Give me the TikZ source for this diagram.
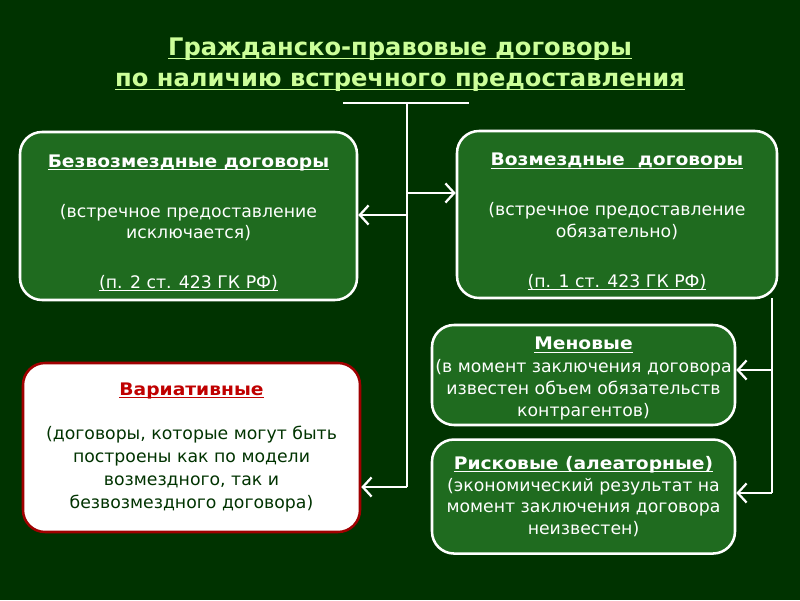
\documentclass[tikz,border=0pt]{standalone}
\usepackage{fontspec}
\setmainfont{DejaVu Sans}
\newfontfamily\hdfont[FakeStretch=1.08]{DejaVu Sans}
\usepackage{tikz}
\usetikzlibrary{positioning, arrows.meta}

\definecolor{bgdark}{HTML}{003300}
\definecolor{boxgreen}{HTML}{1F6B1F}
\definecolor{titlegreen}{HTML}{CCFF99}
\definecolor{darkred}{HTML}{A00000}
\definecolor{redtitle}{HTML}{C00000}

\newcommand{\ul}[1]{\underline{\raisebox{0pt}[\height][0pt]{#1}}}
\newcommand{\hd}[1]{{\hdfont\bfseries\ul{#1}}}

\begin{document}
\begin{tikzpicture}[
    >={Straight Barb[length=2.2mm, width=4.8mm, line width=1.6pt]},
    gbox/.style={rectangle, rounded corners=0.55cm, draw=white, line width=1.8pt, fill=boxgreen, text=white, align=center, font=\fontsize{12.3}{15.4}\selectfont, inner sep=2pt},
    wbox/.style={rectangle, rounded corners=0.55cm, draw=darkred, line width=1.8pt, fill=white, text=bgdark, align=center, font=\fontsize{12.3}{16.3}\selectfont, inner sep=2pt},
    arr/.style={->, line width=1.6pt, white},
    ln/.style={line width=1.6pt, white}
]
\fill[bgdark] (0,0) rectangle (20,15);

% title
\node[text=titlegreen, align=center, font=\bfseries\fontsize{17.2}{22}\selectfont] (title) at (10,13.4)
    {\ul{Гражданско-правовые договоры}\\\ul{по наличию встречного предоставления}};

\coordinate (barl) at (8.575,12.425);
\coordinate (barr) at (11.725,12.425);
\coordinate (top) at (10.175,12.425);
\coordinate (bot) at (10.175,2.825);
\draw[ln] (barl) -- (barr);
\draw[ln] (top) -- (bot);

% main boxes
\node[gbox, minimum width=8.425cm, minimum height=4.2cm] (bezv) at (4.7125,9.6)
    {\rule{0pt}{19pt}\hd{Безвозмездные договоры}\\[20pt]
     (встречное предоставление\\исключается)\\[20pt]
     \ul{(п. 2 ст. 423 ГК РФ)}};
\node[gbox, minimum width=8cm, minimum height=4.175cm] (vozm) at (15.425,9.6375)
    {\rule{0pt}{19pt}\hd{Возмездные\ \ договоры}\\[20pt]
     (встречное предоставление\\обязательно)\\[20pt]
     \ul{(п. 1 ст. 423 ГК РФ)}};
\node[wbox, minimum width=8.425cm, minimum height=4.225cm] (var) at (4.7875,3.8125)
    {\textcolor{redtitle}{\hd{Вариативные}}\\[15pt]
     (договоры, которые могут быть\\построены как по модели\\возмездного, так и\\безвозмездного договора)};

% kinds of paid contracts
\node[gbox, minimum width=7.575cm, minimum height=2.5cm] (menov) at (14.5875,5.625)
    {\rule{0pt}{14pt}\hd{Меновые}\\[1pt]
     (в момент заключения договора\\известен объем обязательств\\контрагентов)};
\node[gbox, minimum width=7.575cm, minimum height=2.85cm, below=0.3cm of menov] (risk)
    {\hd{Рисковые (алеаторные)}\\
     (экономический результат на\\момент заключения договора\\неизвестен)};

\coordinate (jv) at (10.175,10.175);
\coordinate (jb) at (10.175,9.625);
\draw[arr] (jv) -- (jv -| vozm.west);
\draw[arr] (jb) -- (jb -| bezv.east);
\draw[arr] (bot) -- (bot -| var.east);

\coordinate (rtop) at (19.3,7.55);
\coordinate (rmid) at (19.3,5.75);
\coordinate (rbot) at (19.3,2.675);
\draw[ln] (rtop) -- (rbot);
\draw[arr] (rmid) -- (rmid -| menov.east);
\draw[arr] (rbot) -- (rbot -| risk.east);

\end{tikzpicture}
\end{document}
